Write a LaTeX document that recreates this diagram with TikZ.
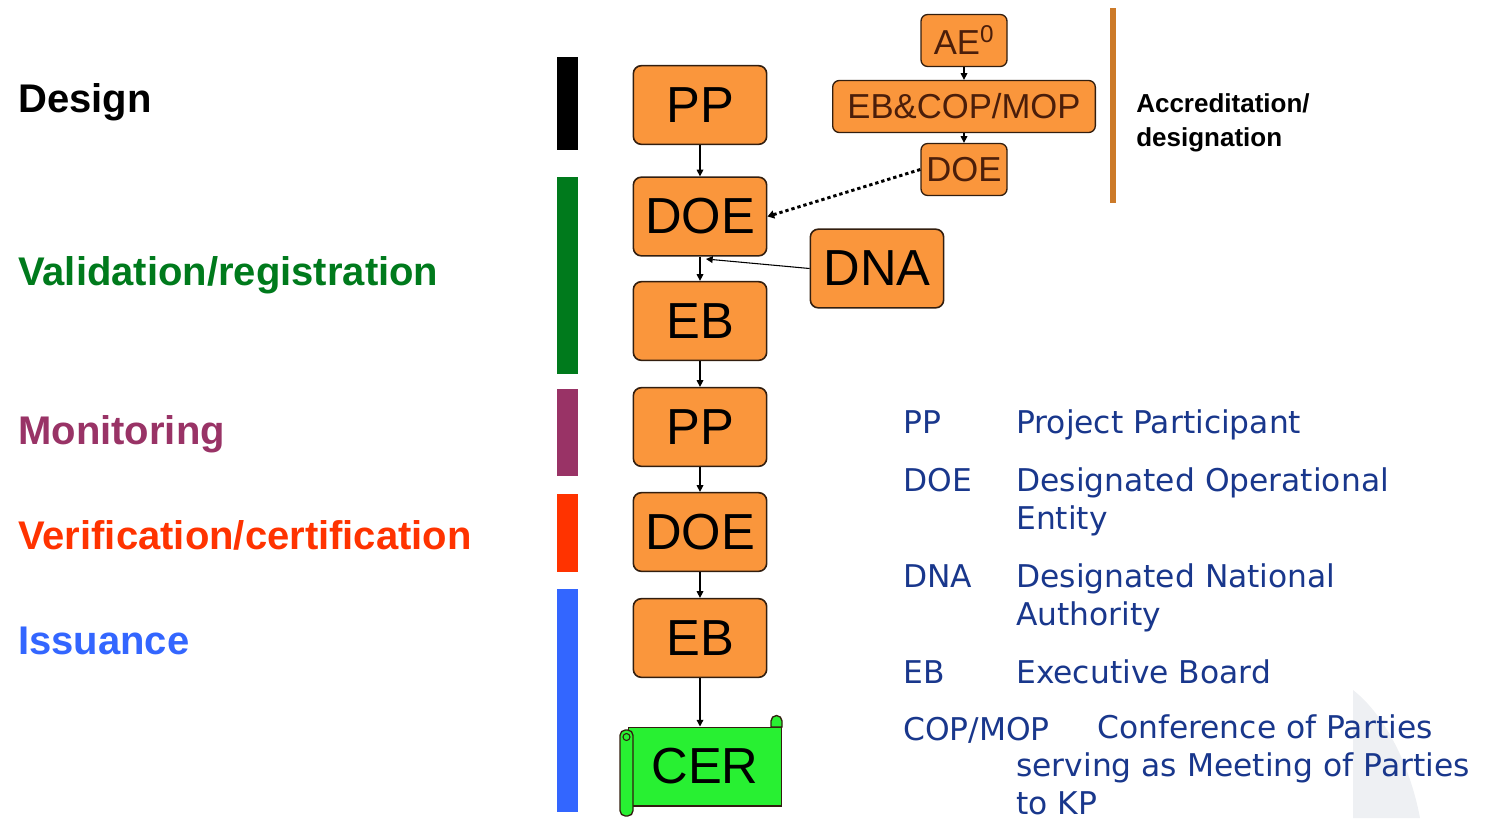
\documentclass[tikz,border=0pt]{standalone}
\usepackage{fontspec}
\setmainfont{Liberation Sans}
\newfontfamily\legendfont{DejaVu Sans}
\usetikzlibrary{arrows.meta}

\definecolor{boxorange}{RGB}{250,150,60}
\definecolor{boxedge}{RGB}{50,30,15}
\definecolor{acctext}{RGB}{75,30,10}
\definecolor{accline}{RGB}{204,122,41}
\definecolor{valgreen}{RGB}{0,122,28}
\definecolor{monpurple}{RGB}{153,51,102}
\definecolor{verred}{RGB}{255,51,0}
\definecolor{issblue}{RGB}{51,102,255}
\definecolor{legendblue}{RGB}{25,55,140}
\definecolor{cergreen}{RGB}{40,240,50}
\definecolor{slidegrey}{RGB}{238,240,243}

\begin{document}
\begin{tikzpicture}[x=0.75pt,y=0.75pt,yscale=-1,xscale=1,
    stagebox/.style={draw=boxedge, line width=1.2pt, fill=boxorange, rounded corners=6pt, minimum width=100pt, minimum height=59pt, inner sep=0pt, font=\fontsize{38}{40}\selectfont},
    accbox/.style={draw=boxedge, line width=1pt, fill=boxorange, rounded corners=5pt, minimum height=39pt, inner sep=0pt, text=acctext, font=\fontsize{26}{28}\selectfont},
    certbox/.style={draw=boxedge, line width=1pt, fill=cergreen, minimum width=115pt, minimum height=59pt, inner sep=0pt, font=\fontsize{38}{40}\selectfont},
    flow/.style={-{Triangle[length=5pt,width=5pt]}, line width=0.9pt},
    phase/.style={anchor=base west, inner sep=0pt, font=\fontsize{30}{32}\selectfont\bfseries},
    legend/.style={anchor=base west, inner sep=0pt, text=legendblue, align=left, font={\legendfont\fontsize{23.5}{28.5}\selectfont}},
  ]
\useasboundingbox (0,0) rectangle (1492,818);

% slide background shape
\fill[slidegrey] (1353,690) .. controls (1385,715) and (1410,765) .. (1420,818) -- (1353,818) -- cycle;

% phase bars
\fill[black] (557,57) rectangle (578,150);
\fill[valgreen] (557,177) rectangle (578,374);
\fill[monpurple] (557,389) rectangle (578,476);
\fill[verred] (557,494) rectangle (578,572);
\fill[issblue] (557,589) rectangle (578,812);

% phase labels
\node[phase] (design) at (18,112) {Design};
\node[phase, text=valgreen] (valid) at (18,285) {Validation/registration};
\node[phase, text=monpurple] (monit) at (18,444) {Monitoring};
\node[phase, text=verred] (verif) at (18,549) {Verification/certification};
\node[phase, text=issblue] (issue) at (18,654) {Issuance};

% project cycle
\node[stagebox] (pp1) at (700,105) {PP};
\node[stagebox] (doe1) at (700,216.5) {DOE};
\node[stagebox] (eb1) at (700,321) {EB};
\node[stagebox] (pp2) at (700,427) {PP};
\node[stagebox] (doe2) at (700,532) {DOE};
\node[stagebox] (eb2) at (700,638) {EB};
\node[stagebox] (dna) at (877,268.5) {DNA};
\node[certbox] (cer) at (705,766.5) {CER};

% scroll ends of the certificate
\filldraw[fill=cergreen, draw=boxedge, line width=1pt] (771,727) -- (771,721) arc[start angle=180, end angle=360, radius=5.5] -- (782,727) -- cycle;
\filldraw[fill=cergreen, draw=boxedge, line width=1pt, rounded corners=4pt] (620,730) rectangle (633,816);
\draw[boxedge, line width=0.8pt] (626.5,737) circle (3.5);

\draw[flow] (pp1) -- (doe1);
\draw[flow] (doe1) -- (eb1);
\draw[flow] (eb1) -- (pp2);
\draw[flow] (pp2) -- (doe2);
\draw[flow] (doe2) -- (eb2);
\draw[flow] (eb2.south) -- (eb2.south |- cer.north);

\coordinate (dnain) at (706,259);
\draw[flow, line width=0.8pt] (dna.west) -- (dnain);

% accreditation
\node[accbox, minimum width=64.5pt] (ae) at (964,40.5) {AE\textsuperscript{0}};
\node[accbox, minimum width=197pt] (ebcop) at (964,106.5) {EB\&COP/MOP};
\node[accbox, minimum width=64.5pt] (doe0) at (964,169.5) {DOE};
\draw[flow] (ae) -- (ebcop);
\draw[flow] (ebcop) -- (doe0);
\draw[line width=2.2pt, dash pattern=on 2.5pt off 2.2pt, -{Triangle[length=5pt,width=6pt]}] (doe0.west) -- (doe1.east);

\draw[accline, line width=4.5pt] (1113,8) -- (1113,203);
\node[anchor=base west, inner sep=0pt, align=left, font=\fontsize{19.5}{25.5}\selectfont\bfseries] (accr) at (1136,146) {Accreditation/\\designation};

% legend
\node[legend] (lpp) at (903,433) {PP};
\node[legend] (lppd) at (1016,433) {Project Participant};
\node[legend] (ldoe) at (903,491) {DOE};
\node[legend] (ldoed) at (1016,529) {Designated Operational\\Entity};
\node[legend] (ldna) at (903,587) {DNA};
\node[legend] (ldnad) at (1016,625) {Designated National\\Authority};
\node[legend] (leb) at (903,683) {EB};
\node[legend] (lebd) at (1016,683) {Executive Board};
\node[legend] (lcop) at (903,740) {COP/MOP};
\node[legend] (lcopd) at (1016,814) {\hspace*{60.75pt}Conference of Parties\\serving as Meeting of Parties\\to KP};
\end{tikzpicture}
\end{document}
